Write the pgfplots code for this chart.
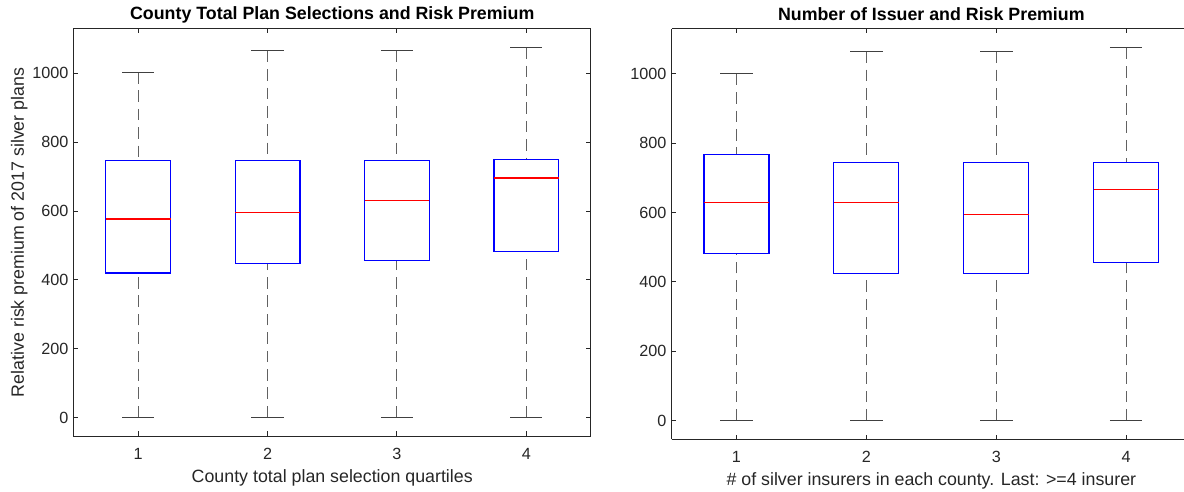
\documentclass[border=0pt]{standalone}
\usepackage{fontspec}
\setmainfont{Liberation Sans}
\usepackage{pgfplots}
\pgfplotsset{compat=1.18}
\usepgfplotslibrary{statistics}
\definecolor{axgray}{RGB}{38,38,38}
\definecolor{mblue}{RGB}{0,0,255}
\definecolor{mred}{RGB}{255,0,0}
\pgfplotsset{
  mybox/.style={
    scale only axis,
    xmin=0.5,
    ymin=-54, ymax=1130,
    xtick={1,2,3,4},
    ytick={0,200,400,600,800,1000},
    tick align=inside,
    major tick length=2.3pt,
    axis line style={axgray, line width=0.5pt},
    every tick/.style={axgray, line width=0.5pt},
    tick label style={font=\fontsize{8.1}{9.7}\selectfont, text=axgray},
    /pgf/number format/assume math mode=true,
    /pgf/number format/1000 sep={},
    xticklabel style={anchor=base, yshift=-11.5pt},
    yticklabel style={anchor=east, inner sep=0pt, xshift=-2.3pt},
    every axis plot/.append style={mblue, line width=0.6pt},
    boxplot/draw direction=y,
    boxplot/box extend=0.5,
    boxplot/whisker extend=0.25,
    boxplot/every box/.style={draw=mblue, line width=0.6pt},
    boxplot/every median/.style={draw=mred, line width=0.6pt},
    boxplot/draw/lower whisker/.code={
      \draw[black!62, line width=0.5pt, dash pattern=on 5.8pt off 3.4pt]
        (boxplot box cs:\pgfplotsboxplotvalue{lower whisker},0.5) --
        (boxplot box cs:\pgfplotsboxplotvalue{lower quartile},0.5);
      \draw[black!75, line width=0.5pt]
        (boxplot whisker cs:\pgfplotsboxplotvalue{lower whisker},0) --
        (boxplot whisker cs:\pgfplotsboxplotvalue{lower whisker},1);
    },
    boxplot/draw/upper whisker/.code={
      \draw[black!62, line width=0.5pt, dash pattern=on 5.8pt off 3.4pt]
        (boxplot box cs:\pgfplotsboxplotvalue{upper whisker},0.5) --
        (boxplot box cs:\pgfplotsboxplotvalue{upper quartile},0.5);
      \draw[black!75, line width=0.5pt]
        (boxplot whisker cs:\pgfplotsboxplotvalue{upper whisker},0) --
        (boxplot whisker cs:\pgfplotsboxplotvalue{upper whisker},1);
    },
  },
}
\begin{document}
\begin{tikzpicture}
\useasboundingbox (0,0) rectangle (592pt,-246pt);
% ---------------- left panel ----------------
\begin{axis}[mybox,
  at={(36.75pt,-218pt)}, anchor=south west,
  width=258.75pt, height=203.65pt,
  xmax=4.5,
  title={County Total Plan Selections and Risk Premium},
  xlabel={County total plan selection quartiles},
  ylabel={Relative risk premium of 2017 silver plans},
  every axis title/.style={at={(0.5,1)}, anchor=base, yshift=4.35pt,
    font=\bfseries\fontsize{8.9}{10.7}\selectfont, text=black},
  every axis x label/.style={at={(axis description cs:0.5,0)}, anchor=base,
    yshift=-23pt, font=\fontsize{8.9}{10.7}\selectfont, text=axgray},
  every axis y label/.style={at={(axis description cs:-0.0957,0.5)}, rotate=90,
    anchor=base, font=\fontsize{8.9}{10.7}\selectfont, text=axgray},
]
\addplot[boxplot prepared={draw position=1, lower whisker=0, lower quartile=420,
  median=577, upper quartile=747, upper whisker=1004}] coordinates {};
\addplot[boxplot prepared={draw position=2, lower whisker=0, lower quartile=447,
  median=596, upper quartile=746, upper whisker=1066}] coordinates {};
\addplot[boxplot prepared={draw position=3, lower whisker=0, lower quartile=457,
  median=631, upper quartile=746, upper whisker=1066}] coordinates {};
\addplot[boxplot prepared={draw position=4, lower whisker=0, lower quartile=483,
  median=696, upper quartile=750, upper whisker=1076}] coordinates {};
\end{axis}
% ---------------- right panel ----------------
\begin{axis}[mybox,
  at={(335.75pt,-219.65pt)}, anchor=south west,
  width=256.25pt, height=205.3pt,
  xmax=4.445,
  axis x line*=box, axis y line*=left,
  x axis line style={-}, y axis line style={-},
  title={Number of Issuer and Risk Premium},
  xlabel={\# of silver insurers in each county. Last: >=4 insurer},
  every axis title/.style={at={(0.507,1)}, anchor=base, yshift=4.35pt,
    font=\bfseries\fontsize{8.9}{10.7}\selectfont, text=black},
  every axis x label/.style={at={(axis description cs:0.507,0)}, anchor=base,
    yshift=-23pt, font=\fontsize{8.9}{10.7}\selectfont, text=axgray},
]
\addplot[boxplot prepared={draw position=1, lower whisker=0, lower quartile=481,
  median=629, upper quartile=768, upper whisker=1000}] coordinates {};
\addplot[boxplot prepared={draw position=2, lower whisker=0, lower quartile=425,
  median=629, upper quartile=745, upper whisker=1065}] coordinates {};
\addplot[boxplot prepared={draw position=3, lower whisker=0, lower quartile=425,
  median=594, upper quartile=745, upper whisker=1065}] coordinates {};
\addplot[boxplot prepared={draw position=4, lower whisker=0, lower quartile=455,
  median=667, upper quartile=745, upper whisker=1075}] coordinates {};
\end{axis}
\end{tikzpicture}
\end{document}
